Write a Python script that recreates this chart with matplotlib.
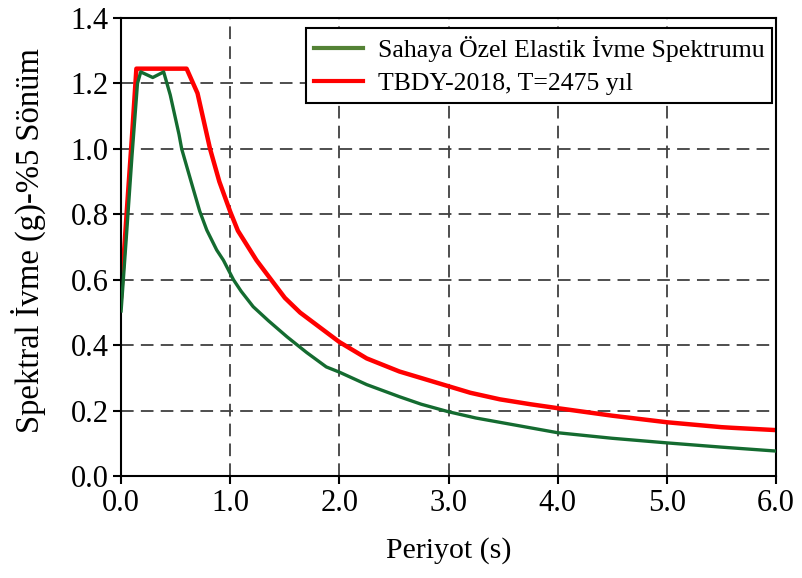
import numpy as np
import matplotlib.pyplot as plt
from matplotlib.lines import Line2D

plt.rcParams['font.family'] = ['Liberation Serif', 'DejaVu Serif']

# Sahaya ozel elastik ivme spektrumu (periyot, Sae)
T_saha = [0.0, 0.05, 0.10, 0.15, 0.18, 0.29, 0.39, 0.45, 0.53, 0.555, 0.65, 0.72,
          0.785, 0.876, 0.937, 1.03, 1.1, 1.21, 1.35, 1.52, 1.7, 1.88, 2.0, 2.25,
          2.55, 2.75, 3.0, 3.25, 3.5, 4.0, 4.5, 5.0, 5.5, 6.0]
Sa_saha = [0.505, 0.74, 0.98, 1.20, 1.235, 1.218, 1.235, 1.165, 1.045, 1.0, 0.89, 0.81,
           0.752, 0.691, 0.66, 0.60, 0.565, 0.518, 0.475, 0.426, 0.378, 0.334, 0.318, 0.28,
           0.243, 0.22, 0.197, 0.178, 0.163, 0.133, 0.116, 0.102, 0.089, 0.077]

# TBDY-2018 tasarim spektrumu, 2475 yil
T_tbdy = [0.0, 0.05, 0.10, 0.14, 0.6, 0.7, 0.815, 0.9, 1.0, 1.07, 1.24, 1.33, 1.5,
          1.64, 2.0, 2.25, 2.55, 3.0, 3.2, 3.47, 3.75, 4.0, 4.5, 5.0, 5.5, 5.6, 6.0]
Sa_tbdy = [0.55, 0.80, 1.04, 1.245, 1.245, 1.17, 1.0, 0.90, 0.808, 0.75, 0.66, 0.62, 0.545,
           0.50, 0.41, 0.36, 0.32, 0.275, 0.255, 0.235, 0.22, 0.208, 0.185, 0.165, 0.15, 0.148, 0.141]

x_ticks = [0, 1, 2, 3, 4, 5, 6]
y_ticks = [0.0, 0.2, 0.4, 0.6, 0.8, 1.0, 1.2, 1.4]

fig = plt.figure(figsize=(8.02, 5.78), dpi=100)
ax = fig.add_axes([0.151, 0.176, 0.8166, 0.793])

# kesikli izgara
for xv in x_ticks[1:-1]:
    ax.axvline(xv, color='#404040', lw=1.3, ls=(0, (7, 4)), zorder=1)
for yv in y_ticks[1:-1]:
    ax.axhline(yv, color='#404040', lw=1.3, ls=(0, (7, 4)), zorder=1)

ax.plot(T_saha, Sa_saha, color='#146b30', lw=2.4, zorder=3)
ax.plot(T_tbdy, Sa_tbdy, color='#ff0000', lw=3.2, zorder=2)

ax.set_xlim(0, 6)
ax.set_ylim(0, 1.4)
ax.set_xticks(x_ticks)
ax.set_xticklabels([f'{v:.1f}' for v in x_ticks])
ax.set_yticks(y_ticks)
ax.set_yticklabels([f'{v:.1f}' for v in y_ticks])
ax.tick_params(direction='out', length=6, width=1.5, labelsize=22, pad=3, color='black')
for s in ax.spines.values():
    s.set_linewidth(1.5)
    s.set_color('black')

ax.set_xlabel('Periyot (s)', fontsize=21.5, labelpad=14)
ax.set_ylabel('Spektral İvme (g)-%5 Sönüm', fontsize=23.5)
ax.yaxis.set_label_coords(-0.115, 0.515)

handles = [Line2D([], [], color='#548235', lw=3),
           Line2D([], [], color='#ff0000', lw=3)]
leg = ax.legend(handles, ['Sahaya Özel Elastik İvme Spektrumu', 'TBDY-2018, T=2475 yıl'],
                loc='upper right', bbox_to_anchor=(0.994, 0.978), borderaxespad=0,
                fontsize=18.5, fancybox=False, framealpha=1, edgecolor='black',
                handlelength=1.9, handletextpad=0.58, labelspacing=0.4,
                borderpad=0.3)
leg.get_frame().set_linewidth(1.5)

fig.savefig('out.png', dpi=100)
